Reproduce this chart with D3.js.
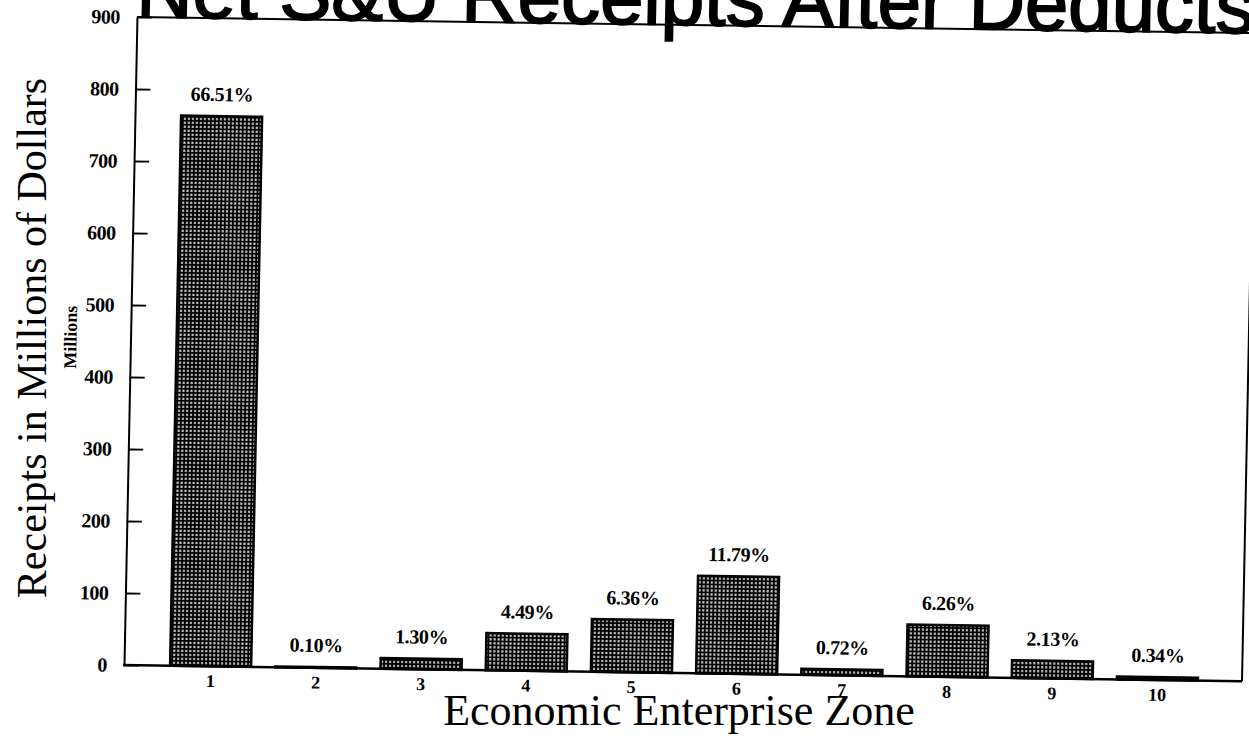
<!DOCTYPE html>
<html>
<head>
<meta charset="utf-8">
<script src="https://cdn.jsdelivr.net/npm/d3@7"></script>
<style>
  html, body { margin: 0; padding: 0; background: #fff; }
  svg { display: block; }
</style>
</head>
<body>
<svg id="chart" width="1249" height="740"></svg>
<script>
// ---- data ----
const zones = ["1", "2", "3", "4", "5", "6", "7", "8", "9", "10"];
const receipts = [764, 1.1, 14.9, 51.6, 73.1, 135.4, 8.3, 71.9, 24.5, 3.9];
const pctLabels = ["66.51%", "0.10%", "1.30%", "4.49%", "6.36%", "11.79%", "0.72%", "6.26%", "2.13%", "0.34%"];
const yTicks = [0, 100, 200, 300, 400, 500, 600, 700, 800, 900];
const titleText = "Net S&U Receipts After Deducts";
const yTitleText = "Receipts in Millions of Dollars";
const xTitleText = "Economic Enterprise Zone";
const unitText = "Millions";

// ---- layout ----
const plotL = 124, plotR = 1242, plotT = 17, plotB = 665;
const serif = "'Liberation Serif', 'Times New Roman', serif";

const svg = d3.select("#chart");

// mesh pattern for bars
const defs = svg.append("defs");
const pat = defs.append("pattern")
  .attr("id", "mesh").attr("patternUnits", "userSpaceOnUse")
  .attr("width", 4).attr("height", 4);
pat.append("rect").attr("width", 4).attr("height", 4).attr("fill", "#000");
pat.append("rect").attr("x", 1).attr("y", 1).attr("width", 2).attr("height", 1).attr("fill", "#fff");
pat.append("rect").attr("x", 1).attr("y", 2).attr("width", 2).attr("height", 1).attr("fill", "#fff");

const x = d3.scaleBand().domain(zones).range([158, 1210])
  .paddingInner(0.23).paddingOuter(0.115);
const y = d3.scaleLinear().domain([0, 900]).range([plotB, plotT]);

// the scanned page is slightly skewed
const g = svg.append("g")
  .attr("transform", `translate(${plotL},${plotB}) matrix(1,0.0145,-0.02,1,0,0) translate(${-plotL},${-plotB})`);

// title (cut off at top, as in the scan)
g.append("text")
  .attr("x", 123).attr("y", 17)
  .attr("font-family", "'Liberation Sans', Arial, sans-serif")
  .attr("font-size", 78)
  .attr("fill", "#000").attr("stroke", "#000").attr("stroke-width", 1.8)
  .text(titleText);

// frame: top and right lines
g.append("line").attr("x1", plotL).attr("x2", plotR + 20).attr("y1", plotT).attr("y2", plotT)
  .attr("stroke", "#000").attr("stroke-width", 2);
g.append("line").attr("x1", plotR).attr("x2", plotR).attr("y1", plotT).attr("y2", plotB)
  .attr("stroke", "#000").attr("stroke-width", 2);

// bars
g.selectAll("rect.bar").data(zones).join("rect")
  .attr("class", "bar")
  .attr("x", d => x(d))
  .attr("width", x.bandwidth())
  .attr("y", (d, i) => y(receipts[i]))
  .attr("height", (d, i) => y(0) - y(receipts[i]))
  .attr("fill", "url(#mesh)")
  .attr("stroke", "#000").attr("stroke-width", 2.5);

// percent labels
g.selectAll("text.pct").data(zones).join("text")
  .attr("class", "pct")
  .attr("x", d => x(d) + x.bandwidth() / 2)
  .attr("y", (d, i) => y(receipts[i]) - 15)
  .attr("text-anchor", "middle")
  .attr("font-family", serif).attr("font-weight", "bold")
  .attr("font-size", 20).attr("letter-spacing", -0.4)
  .text((d, i) => pctLabels[i]);

// y axis
const yAxis = g.append("g").attr("transform", `translate(${plotL},0)`)
  .call(d3.axisLeft(y).tickValues(yTicks).tickSizeInner(-15).tickSizeOuter(0).tickPadding(17));
yAxis.select(".domain").attr("stroke-width", 2);
yAxis.selectAll(".tick line").attr("stroke-width", 1.8);
yAxis.selectAll(".tick text")
  .attr("font-family", serif).attr("font-weight", "bold")
  .attr("font-size", 20).attr("letter-spacing", -0.5).attr("fill", "#000");

// x axis
const xAxis = g.append("g").attr("transform", `translate(0,${plotB})`)
  .call(d3.axisBottom(x).tickSize(0).tickPadding(8));
xAxis.select(".domain").remove();
xAxis.selectAll(".tick text")
  .attr("font-family", serif).attr("font-weight", "bold")
  .attr("font-size", 18).attr("fill", "#000");

// baseline
g.append("line").attr("x1", plotL - 1).attr("x2", plotR).attr("y1", plotB).attr("y2", plotB)
  .attr("stroke", "#000").attr("stroke-width", 2.5);

// "Millions" unit label
g.append("text")
  .attr("transform", `translate(70,338) rotate(-90)`)
  .attr("text-anchor", "middle")
  .attr("font-family", serif).attr("font-weight", "bold")
  .attr("font-size", 18)
  .text(unitText);

// axis titles (not skewed)
svg.append("text")
  .attr("transform", `translate(46,338) rotate(-90)`)
  .attr("text-anchor", "middle")
  .attr("font-family", serif).attr("font-size", 42)
  .text(yTitleText);

svg.append("text")
  .attr("x", 679).attr("y", 725)
  .attr("text-anchor", "middle")
  .attr("font-family", serif).attr("font-size", 44)
  .text(xTitleText);
</script>
</body>
</html>
